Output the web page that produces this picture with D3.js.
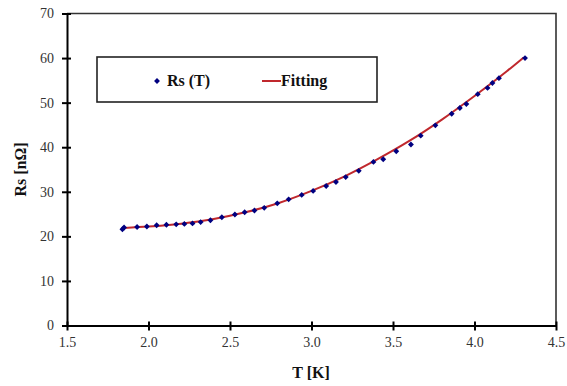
<!DOCTYPE html>
<html>
<head>
<meta charset="utf-8">
<script src="https://cdn.jsdelivr.net/npm/d3@7"></script>
<style>
  html, body { margin: 0; padding: 0; background: #fff; }
  svg { display: block; }
</style>
</head>
<body>
<svg id="chart" width="567" height="386"></svg>
<script>
// Measured surface resistance versus temperature
const tempK = [1.84, 1.85, 1.93, 1.99, 2.05, 2.11, 2.17, 2.22, 2.27, 2.32, 2.38, 2.45, 2.53,
               2.59, 2.65, 2.71, 2.79, 2.86, 2.94, 3.01, 3.09, 3.15, 3.21, 3.29, 3.38, 3.44,
               3.52, 3.61, 3.67, 3.76, 3.86, 3.91, 3.95, 4.02, 4.08, 4.11, 4.15, 4.31];
const rsValues = [21.6, 22.0, 22.1, 22.2, 22.5, 22.6, 22.7, 22.8, 22.9, 23.2, 23.6, 24.3, 24.9,
                  25.4, 25.8, 26.4, 27.4, 28.3, 29.3, 30.2, 31.3, 32.2, 33.3, 34.7, 36.7, 37.3,
                  39.1, 40.6, 42.6, 44.9, 47.5, 48.8, 49.7, 51.9, 53.3, 54.4, 55.5, 60.0];

// Fitted curve, sampled along its length
const fitT  = [1.85, 2.0, 2.2, 2.4, 2.6, 2.8, 3.0, 3.2, 3.4, 3.6, 3.8, 4.0, 4.2, 4.3];
const fitRs = [21.9, 22.2, 22.85, 23.9, 25.45, 27.5, 30.2, 33.4, 37.2, 41.4, 46.2, 51.5, 57.1, 60.1];

const xTicks = [1.5, 2.0, 2.5, 3.0, 3.5, 4.0, 4.5];
const yTicks = [0, 10, 20, 30, 40, 50, 60, 70];

const seriesNames = ["Rs (T)", "Fitting"];

const serif = "font-family: 'Liberation Serif', 'Times New Roman', serif";

const svg = d3.select("#chart");
const plot = { left: 67, right: 556, top: 13.5, bottom: 325.5 };

const x = d3.scaleLinear().domain([1.5, 4.5]).range([plot.left, plot.right]);
const y = d3.scaleLinear().domain([0, 70]).range([plot.bottom, plot.top]);

// top and right frame
svg.append("path")
  .attr("d", `M${plot.left},${plot.top}H${plot.right}V${plot.bottom}`)
  .attr("fill", "none").attr("stroke", "#333").attr("stroke-width", 1.6);

// y axis
const yAxis = svg.append("g")
  .attr("transform", `translate(${plot.left},0)`)
  .call(d3.axisLeft(y).tickValues(yTicks).tickFormat(d3.format("d")).tickSize(0).tickPadding(13));
yAxis.select(".domain").attr("stroke", "#000").attr("stroke-width", 2);
yAxis.selectAll(".tick line").attr("x1", -5).attr("x2", 4).attr("stroke", "#000").attr("stroke-width", 2);
yAxis.selectAll(".tick text").attr("font-size", 14).attr("fill", "#333").attr("style", serif);

// x axis
const xAxis = svg.append("g")
  .attr("transform", `translate(0,${plot.bottom})`)
  .call(d3.axisBottom(x).tickValues(xTicks).tickFormat(d3.format(".1f")).tickSize(0).tickPadding(12));
xAxis.select(".domain").attr("stroke", "#000").attr("stroke-width", 2);
xAxis.selectAll(".tick line").attr("y1", -4).attr("y2", 5).attr("stroke", "#000").attr("stroke-width", 2);
xAxis.selectAll(".tick text").attr("font-size", 14).attr("fill", "#333").attr("style", serif);

// axis titles
svg.append("text")
  .attr("x", 311).attr("y", 378).attr("style", serif).attr("fill", "#111")
  .attr("text-anchor", "middle").attr("font-size", 16).attr("font-weight", "bold")
  .text("T [K]");
svg.append("text")
  .attr("transform", `translate(26,${(plot.top + plot.bottom) / 2}) rotate(-90)`)
  .attr("style", serif).attr("fill", "#111")
  .attr("text-anchor", "middle").attr("font-size", 16).attr("font-weight", "bold")
  .text("Rs [nΩ]");

// fitted curve
const fitData = fitT.map((t, i) => ({ t, r: fitRs[i] }));
svg.append("path")
  .datum(fitData)
  .attr("fill", "none").attr("stroke", "#c0282d").attr("stroke-width", 2)
  .attr("d", d3.line().x(d => x(d.t)).y(d => y(d.r)).curve(d3.curveMonotoneX));

// measured points
const pts = tempK.map((t, i) => ({ t, r: rsValues[i] }));
const diamond = d3.symbol().type(d3.symbolDiamond2).size(22);
svg.append("g").selectAll("path")
  .data(pts).join("path")
  .attr("transform", d => `translate(${x(d.t)},${y(d.r)})`)
  .attr("d", diamond)
  .attr("fill", "#000080");

// legend
const lg = svg.append("g");
lg.append("rect")
  .attr("x", 97).attr("y", 57).attr("width", 280).attr("height", 45)
  .attr("fill", "#fff").attr("stroke", "#222").attr("stroke-width", 1.6);
lg.append("path")
  .attr("transform", "translate(157,81)")
  .attr("d", diamond).attr("fill", "#000080");
lg.append("text").attr("style", serif).attr("fill", "#111")
  .attr("x", 167).attr("y", 86).attr("font-size", 16).attr("font-weight", "bold")
  .text(seriesNames[0]);
lg.append("line")
  .attr("x1", 262).attr("x2", 281).attr("y1", 81).attr("y2", 81)
  .attr("stroke", "#c0282d").attr("stroke-width", 2);
lg.append("text").attr("style", serif).attr("fill", "#111")
  .attr("x", 281).attr("y", 86).attr("font-size", 16).attr("font-weight", "bold")
  .text(seriesNames[1]);
</script>
</body>
</html>
